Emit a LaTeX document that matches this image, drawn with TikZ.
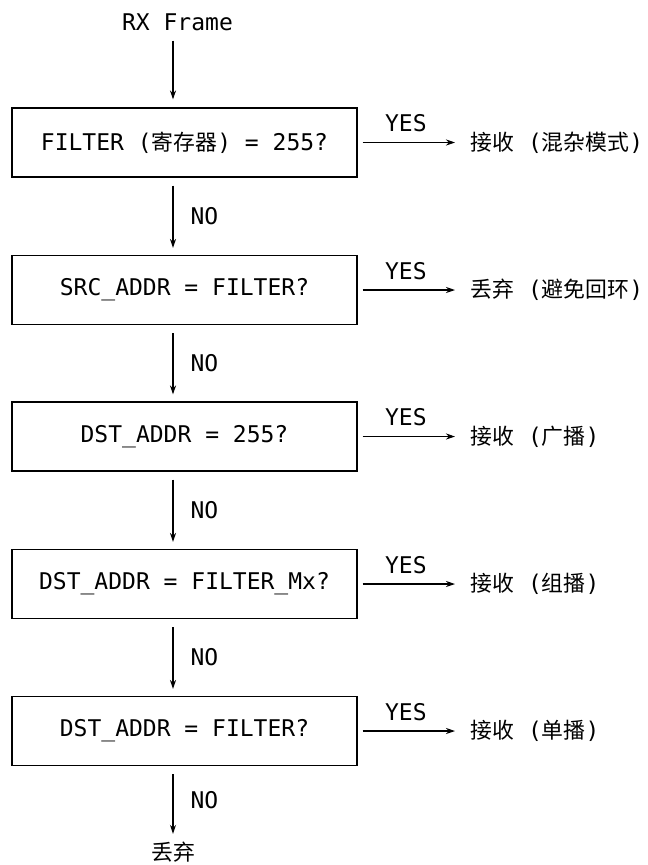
\documentclass[tikz,border=0pt]{standalone}
\usepackage{fontspec}
\setmonofont{DejaVu Sans Mono}
\newfontfamily\cjkfont[Scale=0.95]{Noto Sans CJK SC}
\newcommand{\zh}[1]{{\cjkfont #1}}
\usetikzlibrary{arrows.meta}

\begin{document}
\begin{tikzpicture}[x=1pt, y=-1pt, >={Stealth[length=9pt,width=6pt]}, line width=1.1pt,
	font=\fontsize{23}{28}\selectfont\ttfamily,
	testbox/.style={draw, minimum width=345pt, minimum height=69pt, inner sep=0pt},
	lab/.style={inner sep=0pt}]
	%\draw [help lines] (0,0) grid (648,865);
	\useasboundingbox (0,0) rectangle (648,865);
	\coordinate (spine) at (173,0);
	\node [lab] (rx) at (177.5,22.5) {RX Frame};
	% the five tests
	\node [testbox] (filt) at (184.5,142.5) {FILTER (\zh{寄存器}) = 255?};
	\node [testbox] (src) at (184.5,290) {SRC\_ADDR = FILTER?};
	\node [testbox] (bcast) at (184.5,436.5) {DST\_ADDR = 255?};
	\node [testbox] (mcast) at (184.5,584) {DST\_ADDR = FILTER\_Mx?};
	\node [testbox] (ucast) at (184.5,731) {DST\_ADDR = FILTER?};
	% outcomes
	\node [lab, anchor=west] (promisc) at (470,142.5) {\zh{接收} (\zh{混杂模式})};
	\node [lab, anchor=west] (loop) at (470,290) {\zh{丢弃} (\zh{避免回环})};
	\node [lab, anchor=west] (accbc) at (470,436.5) {\zh{接收} (\zh{广播})};
	\node [lab, anchor=west] (accmc) at (470,584) {\zh{接收} (\zh{组播})};
	\node [lab, anchor=west] (accuc) at (470,731) {\zh{接收} (\zh{单播})};
	\node [lab] (drop) at (173,852) {\zh{丢弃}};
	% NO path
	\draw [->, shorten <=9pt, shorten >=8pt] (rx.south -| spine) -- (filt.north -| spine);
	\draw [->, shorten <=8pt, shorten >=7pt] (filt.south -| spine) -- (src.north -| spine) node [pos=0.5, right=17pt, lab] {NO};
	\draw [->, shorten <=8pt, shorten >=7pt] (src.south -| spine) -- (bcast.north -| spine) node [pos=0.5, right=17pt, lab] {NO};
	\draw [->, shorten <=8pt, shorten >=7pt] (bcast.south -| spine) -- (mcast.north -| spine) node [pos=0.5, right=17pt, lab] {NO};
	\draw [->, shorten <=8pt, shorten >=7pt] (mcast.south -| spine) -- (ucast.north -| spine) node [pos=0.5, right=17pt, lab] {NO};
	\draw [->, shorten <=8pt, shorten >=7.5pt] (ucast.south -| spine) -- (drop.north) node [pos=0.45, right=17pt, lab] {NO};
	% YES branches
	\draw [->, shorten <=5pt, shorten >=15pt] (filt.east) -- (promisc.west) node [pos=0.43, above=10pt, lab] {YES};
	\draw [->, shorten <=5pt, shorten >=15pt] (src.east) -- (loop.west) node [pos=0.43, above=10pt, lab] {YES};
	\draw [->, shorten <=5pt, shorten >=15pt] (bcast.east) -- (accbc.west) node [pos=0.43, above=10pt, lab] {YES};
	\draw [->, shorten <=5pt, shorten >=15pt] (mcast.east) -- (accmc.west) node [pos=0.43, above=10pt, lab] {YES};
	\draw [->, shorten <=5pt, shorten >=15pt] (ucast.east) -- (accuc.west) node [pos=0.43, above=10pt, lab] {YES};
\end{tikzpicture}
\end{document}
